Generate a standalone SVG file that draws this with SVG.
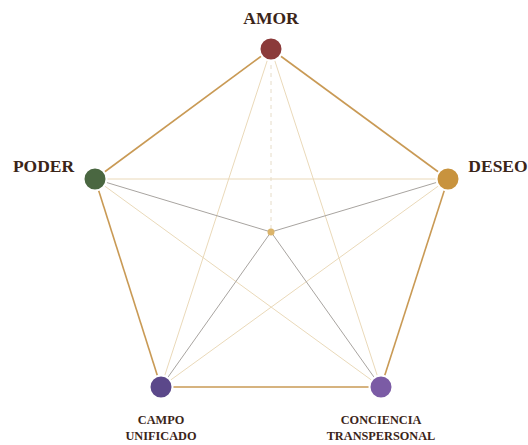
<svg xmlns="http://www.w3.org/2000/svg" width="528" height="445" viewBox="0 0 528 445">
<style>
.lbl{font-family:"Liberation Serif","Times New Roman",serif;font-weight:bold;fill:#3b2519;text-anchor:middle}
.big{font-size:17.5px}
.sm{font-size:12.3px}
.outer{stroke:#c99a55;stroke-width:1.6;fill:none}
.diag{stroke:#ead9b9;stroke-width:1;fill:none}
.spoke{stroke:#a8a4a0;stroke-width:1;fill:none}
.dash{stroke:#e6dcc8;stroke-width:1;stroke-dasharray:4 4;fill:none}
</style>
<rect width="528" height="445" fill="#ffffff"/>
<g id="connectors">
<line class="diag" x1="271" y1="49" x2="161" y2="387"/>
<line class="diag" x1="271" y1="49" x2="381" y2="387"/>
<line class="diag" x1="95" y1="179" x2="448" y2="179"/>
<line class="diag" x1="95" y1="179" x2="381" y2="387"/>
<line class="diag" x1="448" y1="179" x2="161" y2="387"/>
<line class="dash" x1="271" y1="49" x2="271" y2="232"/>
<line class="spoke" x1="95" y1="179" x2="271" y2="232"/>
<line class="spoke" x1="448" y1="179" x2="271" y2="232"/>
<line class="spoke" x1="161" y1="387" x2="271" y2="232"/>
<line class="spoke" x1="381" y1="387" x2="271" y2="232"/>
<line class="outer" x1="271" y1="49" x2="448" y2="179"/>
<line class="outer" x1="448" y1="179" x2="381" y2="387"/>
<line class="outer" x1="381" y1="387" x2="161" y2="387"/>
<line class="outer" x1="161" y1="387" x2="95" y2="179"/>
<line class="outer" x1="95" y1="179" x2="271" y2="49"/>
</g>
<g id="center"><circle cx="271" cy="232" r="3.5" fill="#dbb46a"/></g>
<g id="amor">
<circle cx="271" cy="49" r="11.5" fill="#8b3a3a" stroke="#fff" stroke-width="2"/>
<text class="lbl big" x="271" y="24">AMOR</text>
</g>
<g id="poder">
<circle cx="95" cy="179" r="11.5" fill="#4a6741" stroke="#fff" stroke-width="2"/>
<text class="lbl big" x="43.5" y="172">PODER</text>
</g>
<g id="deseo">
<circle cx="448" cy="179" r="11.5" fill="#c8933e" stroke="#fff" stroke-width="2"/>
<text class="lbl big" x="498" y="172">DESEO</text>
</g>
<g id="campo">
<circle cx="161" cy="387" r="11.5" fill="#5b488a" stroke="#fff" stroke-width="2"/>
<text class="lbl sm" x="161" y="424">CAMPO</text>
<text class="lbl sm" x="161" y="440">UNIFICADO</text>
</g>
<g id="conciencia">
<circle cx="381" cy="387" r="11.5" fill="#7b5ba5" stroke="#fff" stroke-width="2"/>
<text class="lbl sm" x="381" y="424">CONCIENCIA</text>
<text class="lbl sm" x="381" y="440">TRANSPERSONAL</text>
</g>
</svg>
